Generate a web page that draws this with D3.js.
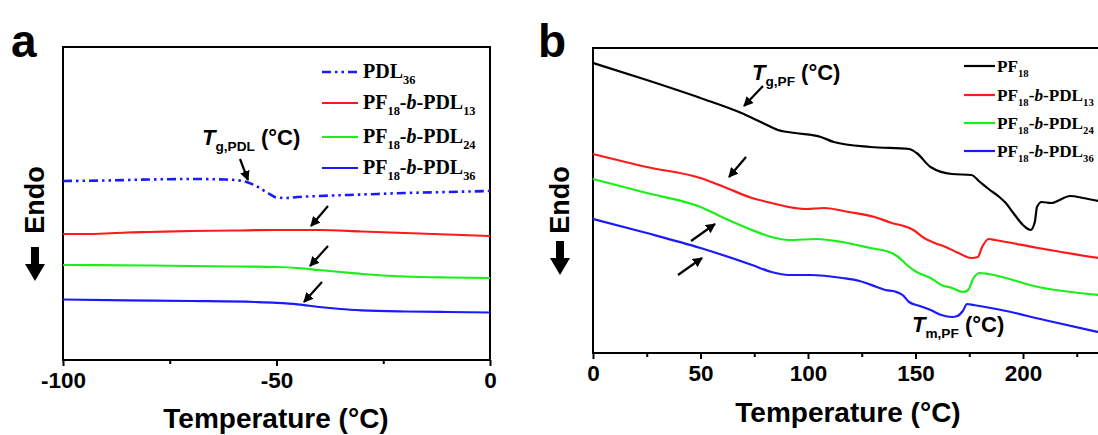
<!DOCTYPE html>
<html><head><meta charset="utf-8">
<script src="https://cdn.jsdelivr.net/npm/d3@7"></script>
<style>body{margin:0;background:#fff}svg{display:block}</style>
</head><body>
<script>
// ---------- Panel a data (Temperature °C, heat flow a.u.) ----------
const aPDL36_T = [-100,-90,-80,-70,-62,-58,-55,-52,-50,-48,-45,-40,-30,-20,-10,0];
const aPDL36_V = [17.9,17.95,18.05,18.1,18.05,17.9,17.45,16.7,16.25,16.2,16.3,16.4,16.55,16.7,16.8,16.9];
const aPDL13_T = [-100,-95,-90,-85,-80,-70,-60,-50,-40,-30,-20,-10,0];
const aPDL13_V = [12.6,12.6,12.65,12.75,12.8,12.9,12.95,13.0,13.0,12.85,12.7,12.55,12.4];
const aPDL24_T = [-100,-80,-60,-50,-45,-40,-35,-30,-25,-20,-10,0];
const aPDL24_V = [9.5,9.45,9.35,9.3,9.2,9.0,8.8,8.6,8.45,8.35,8.25,8.2];
const aPDL36b_T = [-100,-85,-70,-55,-50,-45,-40,-35,-30,-20,-10,0];
const aPDL36b_V = [6.05,5.97,5.9,5.8,5.72,5.57,5.3,5.1,4.97,4.85,4.8,4.75];
const aTicks = [-100,-50,0];
const aMinorTicks = [-75,-25];

// ---------- Panel b data ----------
const bPF18_T = [0,25,50,69,78,86,94,106,112,129,147,150.5,157,167,176,180,184,189,192,195.5,200,203.5,205.5,206.5,208.7,213,222,228,235];
const bPF18_V = [29.0,27.3,25.5,24.0,23.1,22.3,22.0,21.6,21.1,20.6,20.4,20.0,18.6,17.9,17.8,17.1,16.4,15.6,15.0,14.0,12.8,12.3,13.1,14.6,15.1,15.0,15.7,15.5,15.2];
const bPDL13_T = [0,25,50,61,74,83,91,99,107.5,119,131,139,146,149,154,159,164,170,176,179,181,184,187,207,235];
const bPDL13_V = [19.9,18.6,17.5,16.6,15.5,15.0,14.6,14.4,14.5,14.1,13.6,13.0,12.6,12.3,11.5,11.0,10.6,10.0,9.5,9.6,10.6,11.4,11.3,10.5,9.5];
const bPDL24_T = [0,25,50,58,74,83,91,104,116,129,139,142,146,150.5,157,162,167,172,174.5,177,180,184,207,235];
const bPDL24_V = [17.4,16.0,14.6,13.8,12.3,11.6,11.3,11.4,11.1,10.5,10.0,9.6,8.8,8.1,7.5,6.8,6.5,6.1,6.3,7.5,8.0,7.9,6.6,5.8];
const bPDL36_T = [0,25,50,74,83,91,101,116,124,132,136,140.5,144,147,152,157,162,167,169.5,172,174,177,190,210,235];
const bPDL36_V = [13.4,12.0,10.5,8.8,8.1,7.8,7.8,7.5,7.2,6.6,6.3,6.15,5.8,5.1,4.7,4.3,3.8,3.6,3.7,4.2,4.9,4.8,4.3,3.3,2.1];
const bTicks = [0,50,100,150,200];
const bMinorTicks = [25,75,125,175,225];

const COLORS = {blue:"#1a1aff", red:"#ff1a1a", green:"#1aef1a", black:"#000"};

const svg = d3.select("body").append("svg").attr("width",1098).attr("height",435);
svg.append("rect").attr("width",1098).attr("height",435).attr("fill","#fff");

const SANS = "'Liberation Sans', Arial, sans-serif";
const SERIF = "'Liberation Serif', 'Times New Roman', serif";

function panel(cfg){
  const g = svg.append("g");
  const x = d3.scaleLinear().domain(cfg.xDomain).range([cfg.left, cfg.right]);
  const y = d3.scaleLinear().domain(cfg.yDomain).range([cfg.bottom, cfg.top]);
  g.append("rect").attr("x",cfg.left).attr("y",cfg.top)
    .attr("width",cfg.right-cfg.left).attr("height",cfg.bottom-cfg.top)
    .attr("fill","none").attr("stroke","#000").attr("stroke-width",2);
  const ax = g.append("g").attr("transform",`translate(0,${cfg.bottom})`)
    .call(d3.axisBottom(x).tickValues(cfg.ticks).tickSize(6).tickPadding(6).tickFormat(d=>String(d)));
  ax.select(".domain").remove();
  ax.selectAll("line").attr("stroke","#000").attr("stroke-width",2);
  ax.selectAll("text").attr("font-family",SANS).attr("font-weight","bold").attr("font-size",22.5).attr("fill","#000");
  const mx = g.append("g").attr("transform",`translate(0,${cfg.bottom})`)
    .call(d3.axisBottom(x).tickValues(cfg.minor).tickSize(4).tickFormat(""));
  mx.select(".domain").remove();
  mx.selectAll("line").attr("stroke","#000").attr("stroke-width",2);
  g.append("text").attr("x",cfg.titleX).attr("y",cfg.titleY).attr("text-anchor","middle")
    .attr("font-family",SANS).attr("font-weight","bold").attr("font-size",28).text("Temperature (°C)");
  g.append("text").attr("x",cfg.letterX).attr("y",57).attr("font-family",SANS)
    .attr("font-weight","bold").attr("font-size",46).text(cfg.letter);
  g.append("text").attr("transform",`translate(${cfg.endoX+9},200) rotate(-90)`).attr("text-anchor","middle")
    .attr("font-family",SANS).attr("font-weight","bold").attr("font-size",27).text("Endo");
  const ex = cfg.endoX, ey = cfg.arrowTop;
  g.append("path").attr("d",`M${ex-4},${ey} L${ex+4},${ey} L${ex+4},${ey+17} L${ex+10},${ey+17} L${ex},${ey+34} L${ex-10},${ey+17} L${ex-4},${ey+17} Z`)
    .attr("fill","#000");
  const line = d3.line().x(d=>x(d[0])).y(d=>y(d[1])).curve(d3.curveMonotoneX);
  cfg.series.forEach(s=>{
    const pts = s.T.map((t,i)=>[t,s.V[i]]);
    g.append("path").attr("d",line(pts)).attr("fill","none").attr("stroke",s.color)
      .attr("stroke-width",s.dash?2.6:2.2).attr("stroke-dasharray",s.dash||null);
  });
  return {g,x,y};
}

function labelText(g, x, y, parts, size, family){
  const t = g.append("text").attr("x",x).attr("y",y).attr("font-family",family)
    .attr("font-weight","bold").attr("font-size",size);
  parts.forEach(p=>{
    const ts = t.append("tspan").text(p.t);
    if(p.sub){ ts.attr("font-size",size*0.62).attr("dy",size*0.28); }
    if(p.up){ ts.attr("dy",-size*0.28); }
    if(p.it){ ts.attr("font-style","italic"); }
  });
  return t;
}
function copolymer(n){
  return [{t:"PF"},{t:"18",sub:1},{t:"-",up:1},{t:"b",it:1},{t:"-PDL"},{t:n,sub:1}];
}

const defs = svg.append("defs");
defs.append("marker").attr("id","ah").attr("viewBox","0 0 10 10").attr("refX",9).attr("refY",5)
  .attr("markerWidth",4.5).attr("markerHeight",4.5).attr("orient","auto")
  .append("path").attr("d","M0,0 L10,5 L0,10 Z").attr("fill","#000");
function arrow(g,x1,y1,x2,y2){
  g.append("line").attr("x1",x1).attr("y1",y1).attr("x2",x2).attr("y2",y2)
    .attr("stroke","#000").attr("stroke-width",2.2).attr("marker-end","url(#ah)");
}

// ---------- Panel a ----------
const A = panel({
  xDomain:[-100,0], yDomain:[0,31.3], left:63, right:490, top:47, bottom:360,
  ticks:aTicks, minor:aMinorTicks, titleX:276, titleY:428, letter:"a", letterX:11,
  endoX:35, arrowTop:247,
  series:[
    {T:aPDL36_T,V:aPDL36_V,color:COLORS.blue,dash:"9,4,2.5,4,2.5,4"},
    {T:aPDL13_T,V:aPDL13_V,color:COLORS.red},
    {T:aPDL24_T,V:aPDL24_V,color:COLORS.green},
    {T:aPDL36b_T,V:aPDL36b_V,color:COLORS.blue}
  ]
});
const aLegend = [
  {parts:[{t:"PDL"},{t:"36",sub:1}],color:COLORS.blue,dash:"9,4,2.5,4,2.5,4",y:72},
  {parts:copolymer("13"),color:COLORS.red,y:103},
  {parts:copolymer("24"),color:COLORS.green,y:137},
  {parts:copolymer("36"),color:COLORS.blue,y:168}
];
aLegend.forEach(l=>{
  A.g.append("line").attr("x1",322).attr("x2",358).attr("y1",l.y).attr("y2",l.y)
    .attr("stroke",l.color).attr("stroke-width",l.dash?2.6:2.2).attr("stroke-dasharray",l.dash||null);
  labelText(A.g,363,l.y+6,l.parts,20,SERIF);
});
labelText(A.g,202,145,[{t:"T",it:1},{t:"g,PDL",sub:1},{t:" (",up:1},{t:"°C)"}],22,SANS);
arrow(A.g,240,159,248,180);
arrow(A.g,328,206,311,226);
arrow(A.g,328,246,310,266);
arrow(A.g,322,282,304,302);

// ---------- Panel b ----------
const B = panel({
  xDomain:[0,250], yDomain:[0,30.5], left:593, right:1130.5, top:48, bottom:353,
  ticks:bTicks, minor:bMinorTicks, titleX:848, titleY:422, letter:"b", letterX:538,
  endoX:560, arrowTop:241,
  series:[
    {T:bPF18_T,V:bPF18_V,color:COLORS.black},
    {T:bPDL13_T,V:bPDL13_V,color:COLORS.red},
    {T:bPDL24_T,V:bPDL24_V,color:COLORS.green},
    {T:bPDL36_T,V:bPDL36_V,color:COLORS.blue}
  ]
});
const bLegend = [
  {parts:[{t:"PF"},{t:"18",sub:1}],color:COLORS.black,y:66},
  {parts:copolymer("13"),color:COLORS.red,y:95},
  {parts:copolymer("24"),color:COLORS.green,y:123},
  {parts:copolymer("36"),color:COLORS.blue,y:151}
];
bLegend.forEach(l=>{
  B.g.append("line").attr("x1",964).attr("x2",995).attr("y1",l.y).attr("y2",l.y)
    .attr("stroke",l.color).attr("stroke-width",2.2);
  labelText(B.g,997,l.y+6,l.parts,17.2,SERIF);
});
labelText(B.g,752,80,[{t:"T",it:1},{t:"g,PF",sub:1},{t:" (",up:1},{t:"°C)"}],22,SANS);
labelText(B.g,912,332,[{t:"T",it:1},{t:"m,PF",sub:1},{t:" (",up:1},{t:"°C)"}],22,SANS);
arrow(B.g,763,86,744,106);
arrow(B.g,746,157,729,177);
arrow(B.g,691,241,715,224);
arrow(B.g,678,275,702,258);
</script>
</body></html>
